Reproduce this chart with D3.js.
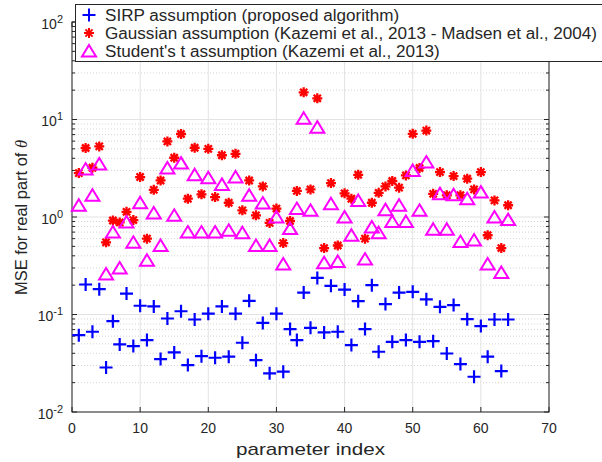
<!DOCTYPE html>
<html>
<head>
<meta charset="utf-8">
<script src="https://d3js.org/d3.v7.min.js"></script>
<style>
body { margin: 0; background: #fff; }
text { font-family: "Liberation Sans", Arial, sans-serif; fill: #262626; }
</style>
</head>
<body>
<svg width="602" height="462"></svg>
<script>
// parameter index 1..64
var idx = d3.range(1, 65)

// SIRP assumption (proposed algorithm)
var sirp = [0.0614,0.203,0.0665,0.182,0.0286,0.0855,0.0493,0.164,0.0474,0.123,
  0.0546,0.121,0.0349,0.091,0.0408,0.108,0.0303,0.0889,0.0374,0.102,
  0.036,0.121,0.0369,0.102,0.0513,0.138,0.034,0.082,0.0249,0.102,
  0.0259,0.0708,0.0546,0.168,0.073,0.237,0.0655,0.197,0.0665,0.18,
  0.0486,0.137,0.0708,0.2,0.0415,0.128,0.0525,0.168,0.0546,0.171,
  0.0525,0.143,0.0533,0.12,0.0398,0.125,0.031,0.0896,0.023,0.076,
  0.0369,0.0889,0.0263,0.0889]

// Gaussian assumption
var gauss = [2.82,5.1,3.2,5.3,0.55,0.92,0.88,1.13,0.93,2.57,
  0.6,1.9,2.37,5.96,4.05,7.1,1.54,5.13,1.71,5.0,
  1.6,4.3,1.4,4.45,1.17,2.37,1.04,2.06,0.87,1.22,
  0.54,0.91,1.85,19,1.92,16.5,0.48,2.23,0.51,1.75,
  1.54,2.71,0.6,1.4,1.77,2.06,2.34,2.0,2.67,7.13,
  3.18,7.7,1.73,2.89,1.67,2.63,1.67,2.47,1.92,2.89,
  0.65,1.48,0.48,1.32]

// Student's t assumption
var student = [1.32,3.1,1.67,3.5,0.26,0.70,0.30,0.89,0.55,1.4,
  0.36,1.1,0.51,3.18,1.04,3.57,0.70,2.71,0.70,2.53,
  0.70,2.16,0.73,2.57,0.69,1.67,0.51,1.39,0.51,1.0,
  0.33,0.76,1.22,10.3,1.17,8.35,0.34,1.37,0.35,1.0,
  0.65,1.48,0.37,0.79,0.69,1.19,0.9,1.32,0.9,3.0,
  1.17,3.66,0.75,1.73,0.75,1.69,0.56,1.54,0.58,1.8,
  0.33,1.0,0.27,0.94]

var xTicks = [0,10,20,30,40,50,60,70]
var yTicks = [1e-2,1e-1,1e0,1e1,1e2]
var legendLabels = ["SIRP assumption (proposed algorithm)",
  "Gaussian assumption (Kazemi et al., 2013 - Madsen et al., 2004)",
  "Student's t assumption (Kazemi et al., 2013)"]

var svg = d3.select("svg")
var L = 72, R = 549, T = 22, B = 412

var x = d3.scaleLinear().domain([0,70]).range([L,R])
var y = d3.scaleLog().domain([1e-2,1e2]).range([B,T])

// minor tick values
var minor = []
for (var e = -2; e < 2; e++) for (var k = 2; k <= 9; k++) minor.push(k*Math.pow(10,e))

var grid = svg.append("g")
grid.selectAll(".ym").data(minor).enter().append("line")
  .attr("x1",L).attr("x2",R).attr("y1",d=>y(d)).attr("y2",d=>y(d))
  .attr("stroke","#d4d4d4").attr("stroke-width",1).attr("stroke-dasharray","1,2")
grid.selectAll(".yM").data(yTicks).enter().append("line")
  .attr("x1",L).attr("x2",R).attr("y1",d=>y(d)).attr("y2",d=>y(d))
  .attr("stroke","#e3e3e3").attr("stroke-width",1)
grid.selectAll(".xM").data(xTicks).enter().append("line")
  .attr("x1",d=>x(d)).attr("x2",d=>x(d)).attr("y1",T).attr("y2",B)
  .attr("stroke","#e3e3e3").attr("stroke-width",1)

// axes box and inward ticks
var ax = svg.append("g").attr("stroke","#262626").attr("stroke-width",1)
ax.append("rect").attr("x",L).attr("y",T).attr("width",R-L).attr("height",B-T).attr("fill","none")
xTicks.forEach(function(t){
  ax.append("line").attr("x1",x(t)).attr("x2",x(t)).attr("y1",B).attr("y2",B-5)
  ax.append("line").attr("x1",x(t)).attr("x2",x(t)).attr("y1",T).attr("y2",T+5)
})
yTicks.forEach(function(t){
  ax.append("line").attr("x1",L).attr("x2",L+5).attr("y1",y(t)).attr("y2",y(t))
  ax.append("line").attr("x1",R).attr("x2",R-5).attr("y1",y(t)).attr("y2",y(t))
})
minor.forEach(function(t){
  ax.append("line").attr("x1",L).attr("x2",L+3).attr("y1",y(t)).attr("y2",y(t))
  ax.append("line").attr("x1",R).attr("x2",R-3).attr("y1",y(t)).attr("y2",y(t))
})

// tick labels
svg.selectAll(".xl").data(xTicks).enter().append("text")
  .attr("x",d=>x(d)).attr("y",B+21).attr("text-anchor","middle")
  .style("font-size","14px").text(d=>d)
var yl = svg.selectAll(".yl").data(yTicks).enter().append("text")
  .attr("x",L-9).attr("y",d=>y(d)+6.5).attr("text-anchor","end")
  .style("font-size","14px")
yl.append("tspan").text("10")
yl.append("tspan").attr("dy",-6).style("font-size","11px").text(d=>Math.round(Math.log10(d)))

// axis titles
svg.append("text").attr("x",236).attr("y",455)
  .attr("textLength",149).attr("lengthAdjust","spacingAndGlyphs")
  .style("font-size","17px").text("parameter index")
var yt = svg.append("text").attr("transform","translate(26.5,295) rotate(-90)")
  .attr("textLength",155).attr("lengthAdjust","spacingAndGlyphs")
  .style("font-size","16px")
yt.append("tspan").text("MSE for real part of ")
yt.append("tspan").style("font-style","italic").style("font-family","'Liberation Serif', serif").text("θ")

// marker paths
var plusPath = "M-6.5,0H6.5M0,-6.5V6.5"
var starPath = "M-5,0H5M0,-5V5M-3.6,-3.6L3.6,3.6M-3.6,3.6L3.6,-3.6"
var triPath = "M0,-6L7,5.5L-7,5.5Z"

function drawSeries(vals, path, color, sw) {
  svg.append("g").selectAll("path").data(vals).enter().append("path")
    .attr("d",path)
    .attr("transform",function(d,i){ return "translate("+x(idx[i])+","+y(d)+")" })
    .attr("fill","none").attr("stroke",color).attr("stroke-width",sw)
}
drawSeries(sirp, plusPath, "#0000ff", 2.2)
drawSeries(gauss, starPath, "#ff0000", 2.3)
drawSeries(student, triPath, "#ff00ff", 2)

// legend
var lg = svg.append("g")
lg.append("rect").attr("x",75.5).attr("y",4.5).attr("width",540).attr("height",57)
  .attr("fill","#fff").attr("stroke","#262626").attr("stroke-width",1)
var lgPaths = [plusPath, starPath, triPath]
var lgColors = ["#0000ff","#ff0000","#ff00ff"]
var lgText = []
legendLabels.forEach(function(t,i){
  var cy = 15 + i*18
  lg.append("path").attr("d",lgPaths[i]).attr("transform","translate(89,"+cy+")")
    .attr("fill","none").attr("stroke",lgColors[i]).attr("stroke-width",2)
  lgText.push(lg.append("text").attr("x",105).attr("y",cy+5.5).style("font-size","16px").text(t))
})
// stretch legend text to the width seen in the picture
var f = 492 / lgText[1].node().getComputedTextLength()
lgText.forEach(function(s){
  s.attr("textLength", s.node().getComputedTextLength()*f).attr("lengthAdjust","spacingAndGlyphs")
})
</script>
</body>
</html>
